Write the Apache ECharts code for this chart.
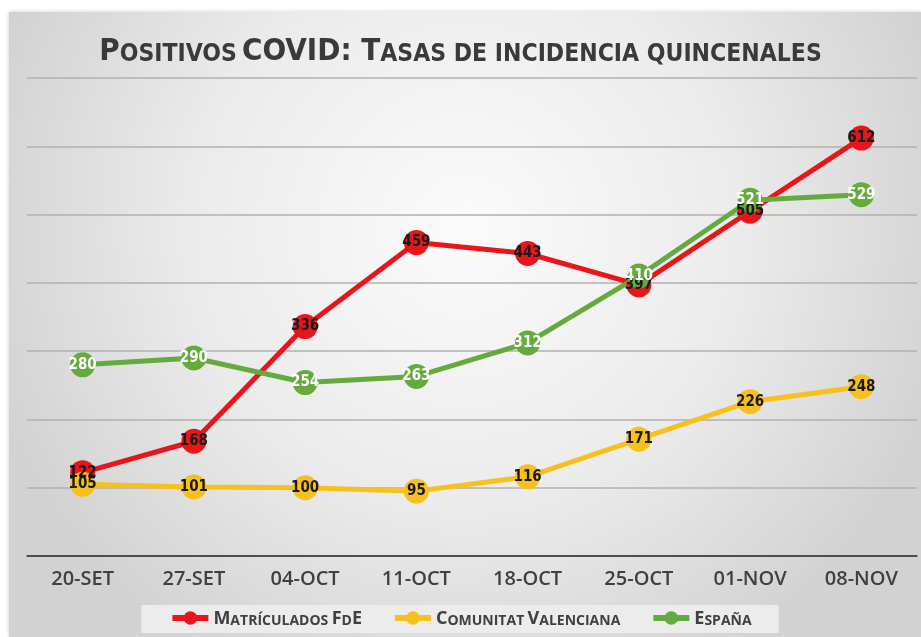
<!DOCTYPE html>
<html>
<head>
<meta charset="utf-8">
<script src="https://cdn.jsdelivr.net/npm/echarts@6/dist/echarts.min.js"></script>
<style>
  html, body { margin: 0; padding: 0; background: #fff; }
  #chart { width: 921px; height: 637px; }
</style>
</head>
<body>
<div id="chart"></div>
<script>
// datos
var categories = ['20-SET', '27-SET', '04-OCT', '11-OCT', '18-OCT', '25-OCT', '01-NOV', '08-NOV']
var matriculados = [122, 168, 336, 459, 443, 397, 505, 612]
var valenciana = [105, 101, 100, 95, 116, 171, 226, 248]
var espana = [280, 290, 254, 263, 312, 410, 521, 529]

var seriesNames = ['Matrículados FdE', 'Comunitat Valenciana', 'España']
// versalitas a mano: b = mayuscula, s = minuscula
var legendRich = {
    'Matrículados FdE': '{b|M}{s|ATRÍCULADOS} {b|F}{s|D}{b|E}',
    'Comunitat Valenciana': '{b|C}{s|OMUNITAT} {b|V}{s|ALENCIANA}',
    'España': '{b|E}{s|SPAÑA}',
}

var chart = echarts.init(document.getElementById('chart'))
var condFont = "'DejaVu Sans Condensed', sans-serif"

function makeSeries(name, data, color, labelColor) {
    return {
        name: name,
        type: 'line',
        data: data,
        symbol: 'circle',
        symbolSize: 25,
        itemStyle: { color: color },
        lineStyle: { color: color, width: 5 },
        label: {
            show: true,
            position: 'inside',
            color: labelColor,
            fontFamily: condFont,
            fontWeight: 'bold',
            fontSize: 15,
        },
    }
}

var option = {
    animation: false,
    graphic: [
        {
            type: 'rect',
            z: -10,
            shape: { x: 9, y: 12, width: 912, height: 625 },
            style: {
                fill: new echarts.graphic.RadialGradient(0.5, 0.35, 0.8, [
                    { offset: 0, color: '#fbfbfb' },
                    { offset: 0.55, color: '#ebebeb' },
                    { offset: 1, color: '#d2d2d2' },
                ]),
                shadowBlur: 4,
                shadowColor: 'rgba(0,0,0,0.2)',
            },
        },
    ],
    title: {
        text: '{b|P}{s|OSITIVOS} {b|COVID: T}{s|ASAS DE INCIDENCIA QUINCENALES}',
        left: 'center',
        top: 28,
        textStyle: {
            rich: {
                b: { fontFamily: condFont, fontWeight: 'bold', fontSize: 31, color: '#3a3a3a', verticalAlign: 'bottom', lineHeight: 34 },
                s: { fontFamily: condFont, fontWeight: 'bold', fontSize: 24.5, color: '#3a3a3a', verticalAlign: 'bottom', lineHeight: 34 },
            },
        },
    },
    legend: {
        data: seriesNames,
        bottom: 4,
        left: 'center',
        backgroundColor: '#ececec',
        padding: [5, 27, 5, 28],
        itemGap: 30,
        itemWidth: 36,
        itemHeight: 17,
        lineStyle: { width: 6 },
        formatter: function(name) {
            return legendRich[name]
        },
        textStyle: {
            rich: {
                b: { fontFamily: "'Open Sans', sans-serif", fontWeight: 'bold', fontSize: 18, color: '#404040', verticalAlign: 'bottom', lineHeight: 20 },
                s: { fontFamily: "'Open Sans', sans-serif", fontWeight: 'bold', fontSize: 14, color: '#404040', verticalAlign: 'bottom', lineHeight: 20 },
            },
        },
    },
    grid: {
        left: 27,
        right: 4,
        top: 78,
        bottom: 81,
    },
    xAxis: {
        type: 'category',
        data: categories,
        boundaryGap: true,
        axisLine: { show: true, lineStyle: { color: '#2a2a2a', width: 1.5 } },
        axisTick: { show: false },
        axisLabel: {
            color: '#404040',
            fontFamily: "'Open Sans', sans-serif",
            fontWeight: 600,
            fontSize: 20,
            margin: 13,
        },
    },
    yAxis: {
        type: 'value',
        min: 0,
        max: 700,
        interval: 100,
        axisLine: { show: false },
        axisTick: { show: false },
        axisLabel: { show: false },
        splitLine: { lineStyle: { color: '#b0b0b0', width: 1.5 } },
    },
    series: [
        makeSeries(seriesNames[0], matriculados, '#e8161b', '#1a1a1a'),
        makeSeries(seriesNames[1], valenciana, '#f7c01c', '#1a1a1a'),
        makeSeries(seriesNames[2], espana, '#65aa3c', '#ffffff'),
    ],
}

option && chart.setOption(option)
</script>
</body>
</html>
